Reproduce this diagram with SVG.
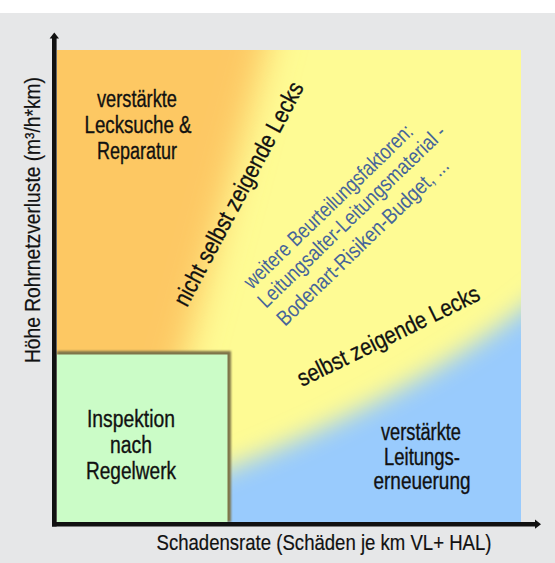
<svg xmlns="http://www.w3.org/2000/svg" width="555" height="563" viewBox="0 0 555 563">
  <style>
    .lbl { font-family: "Liberation Sans Narrow", "Liberation Sans", Arial, sans-serif; font-size: 23px; fill: #111; stroke: #111; stroke-width: 0.35px; }
    .mid { text-anchor: middle; }
    .diag { font-family: "Liberation Sans Narrow", "Liberation Sans", Arial, sans-serif; font-size: 24px; fill: #111; stroke: #111; stroke-width: 0.3px; }
    .note { font-family: "Liberation Sans Narrow", "Liberation Sans", Arial, sans-serif; font-size: 21.5px; fill: #46659a; }
    .axl { font-family: "Liberation Sans Narrow", "Liberation Sans", Arial, sans-serif; font-size: 22px; fill: #111; stroke: #111; stroke-width: 0.2px; text-anchor: middle; }
    .axis { stroke: #111; stroke-width: 4.6; fill: none; }
  </style>
  <defs>
    <clipPath id="plotClip"><rect x="57" y="50" width="464" height="472"/></clipPath>
    <filter id="blurO" filterUnits="userSpaceOnUse" x="-100" y="-100" width="800" height="800">
      <feGaussianBlur stdDeviation="17"/>
    </filter>
    <filter id="blurB" filterUnits="userSpaceOnUse" x="-100" y="-100" width="800" height="800">
      <feGaussianBlur stdDeviation="12"/>
    </filter>
    <filter id="blurS" filterUnits="userSpaceOnUse" x="0" y="300" width="300" height="263">
      <feGaussianBlur stdDeviation="1.1"/>
    </filter>
  </defs>

  <rect id="background" x="0" y="13" width="555" height="550" fill="#e6e7e8"/>

  <g id="regions">
    <rect x="57" y="50" width="464" height="472" fill="#fefb94"/>
    <g clip-path="url(#plotClip)">
      <polygon id="orange-zone" points="0,-40 290,-40 120,600 0,600" fill="#fdc864" filter="url(#blurO)"/>
      <path id="blue-zone" d="M 160,495 L 200,480 Q 420,395 540,295 L 620,240 L 620,620 L 160,620 Z" fill="#99cbfd" filter="url(#blurB)"/>
    </g>
  </g>

  <g id="inspection-box">
    <rect x="57" y="351" width="174" height="171" fill="#7e7448" filter="url(#blurS)"/>
    <rect x="57" y="354.5" width="170.5" height="167.5" fill="#cbfcc7"/>
    <text class="lbl mid" x="131" y="427" textLength="88" lengthAdjust="spacingAndGlyphs">Inspektion</text>
    <text class="lbl mid" x="131" y="453" textLength="42" lengthAdjust="spacingAndGlyphs">nach</text>
    <text class="lbl mid" x="131" y="479" textLength="90" lengthAdjust="spacingAndGlyphs">Regelwerk</text>
  </g>

  <g id="leak-search">
    <text class="lbl mid" x="137" y="107" textLength="80" lengthAdjust="spacingAndGlyphs">verstärkte</text>
    <text class="lbl mid" x="138" y="133" textLength="107" lengthAdjust="spacingAndGlyphs">Lecksuche &amp;</text>
    <text class="lbl mid" x="137" y="159" textLength="80" lengthAdjust="spacingAndGlyphs">Reparatur</text>
  </g>

  <g id="renewal">
    <text class="lbl mid" x="421" y="440" textLength="80" lengthAdjust="spacingAndGlyphs">verstärkte</text>
    <text class="lbl mid" x="422" y="465" textLength="76" lengthAdjust="spacingAndGlyphs">Leitungs-</text>
    <text class="lbl mid" x="422" y="489" textLength="97" lengthAdjust="spacingAndGlyphs">erneuerung</text>
  </g>

  <g id="boundary-labels">
    <text class="diag" transform="translate(187,308) rotate(-62)" textLength="250" lengthAdjust="spacingAndGlyphs">nicht selbst zeigende Lecks</text>
    <text class="diag" transform="translate(302,387) rotate(-26)" textLength="200" lengthAdjust="spacingAndGlyphs">selbst zeigende Lecks</text>
  </g>

  <g id="factors">
    <text class="note" transform="translate(252,290) rotate(-44)" textLength="226" lengthAdjust="spacingAndGlyphs">weitere Beurteilungsfaktoren:</text>
    <text class="note" transform="translate(266,309) rotate(-44)" textLength="252" lengthAdjust="spacingAndGlyphs">Leitungsalter-Leitungsmaterial -</text>
    <text class="note" transform="translate(285,327) rotate(-44)" textLength="230" lengthAdjust="spacingAndGlyphs">Bodenart-Risiken-Budget, ...</text>
  </g>

  <g id="axes">
    <line class="axis" x1="54.3" y1="37" x2="54.3" y2="526.5"/>
    <polygon points="54.3,32.5 59,38.5 49.6,38.5" fill="#111"/>
    <line class="axis" x1="52" y1="524.2" x2="536" y2="524.2"/>
    <polygon points="541,524.2 535,519.6 535,528.8" fill="#111"/>
    <text class="axl" transform="translate(40,220) rotate(-90)" textLength="286" lengthAdjust="spacingAndGlyphs">Höhe Rohrnetzverluste (m³/h*km)</text>
    <text class="axl" x="324" y="550" textLength="335" lengthAdjust="spacingAndGlyphs">Schadensrate (Schäden je km VL+ HAL)</text>
  </g>
</svg>
